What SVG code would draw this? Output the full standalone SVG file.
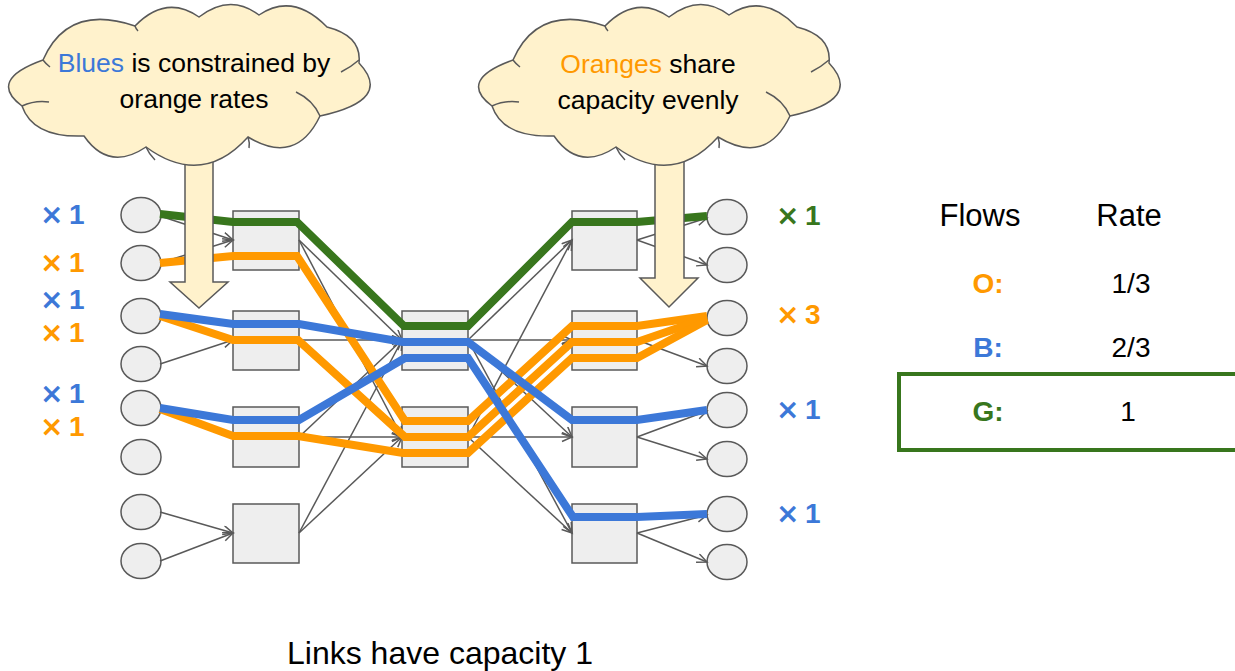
<svg xmlns="http://www.w3.org/2000/svg" width="1235" height="671" viewBox="0 0 1235 671">
<style>
text{font-family:"Liberation Sans",Arial,sans-serif}
.host{fill:#eeeeee;stroke:#595959;stroke-width:1.5}
.sw{fill:#eeeeee;stroke:#595959;stroke-width:1.5}
.thin{fill:none;stroke:#595959;stroke-width:1.5;marker-end:url(#arr)}
.flow{fill:none;stroke-width:8;stroke-linejoin:miter}
.g{stroke:#38761d}.o{stroke:#ff9900}.b{stroke:#3c78d8}
.cloud{fill:#fff2cc;stroke:#595959;stroke-width:1.5}
.crease{fill:none;stroke:#595959;stroke-width:1.5}
.bigarr{fill:#fff2cc;stroke:#595959;stroke-width:1.5}
.lbl{font-size:28px;font-weight:bold}
.x{font-family:"DejaVu Sans",sans-serif}
.ct{font-size:26.5px;fill:#000;text-anchor:middle}
.tt{font-size:31px;fill:#000;text-anchor:middle}
.tv{font-size:28px;text-anchor:middle}
</style>
<defs>
<marker id="arr" markerUnits="userSpaceOnUse" markerWidth="14" markerHeight="12" refX="11" refY="5" orient="auto">
<path d="M1,0.5 L11,5 L1,9.5" fill="none" stroke="#595959" stroke-width="1.5"/>
</marker>
<g id="cloudshape">
<path class="cloud" d="M43,60 Q68,3 135,26 Q166,-6 199,17 Q230,-7 259,15 Q293,-8 327,27 Q362,36 359,63 Q394,100 320,116 Q296,166 248,137 Q202,188 146,147 Q109,172 84,136 Q33,138 22,106 Q-13,80 43,60 Z"/>
<path class="crease" d="M43,60 Q46,64 50,67"/>
<path class="crease" d="M22,106 Q35,100 49,102"/>
<path class="crease" d="M359,60 Q351,67 341,72"/>
<path class="crease" d="M320,116 Q313,100 296,92"/>
<path class="crease" d="M248,137 Q250,143 249,148"/>
<path class="crease" d="M146,147 Q149,154 155,160"/>
<path class="crease" d="M135,26 Q136,29 138,31"/>
</g>
</defs>

<g id="left-hosts">
<ellipse id="lh1" class="host" cx="141" cy="215" rx="20" ry="17.5"/>
<ellipse id="lh2" class="host" cx="141" cy="263" rx="20" ry="17.5"/>
<ellipse id="lh3" class="host" cx="141" cy="316" rx="20" ry="17.5"/>
<ellipse id="lh4" class="host" cx="141" cy="364" rx="20" ry="17.5"/>
<ellipse id="lh5" class="host" cx="141" cy="408" rx="20" ry="17.5"/>
<ellipse id="lh6" class="host" cx="141" cy="457" rx="20" ry="17.5"/>
<ellipse id="lh7" class="host" cx="141" cy="512" rx="20" ry="17.5"/>
<ellipse id="lh8" class="host" cx="141" cy="561" rx="20" ry="17.5"/>
</g>
<g id="right-hosts">
<ellipse id="rh1" class="host" cx="727" cy="217" rx="20" ry="17.5"/>
<ellipse id="rh2" class="host" cx="727" cy="265" rx="20" ry="17.5"/>
<ellipse id="rh3" class="host" cx="727" cy="318" rx="20" ry="17.5"/>
<ellipse id="rh4" class="host" cx="727" cy="366" rx="20" ry="17.5"/>
<ellipse id="rh5" class="host" cx="727" cy="410" rx="20" ry="17.5"/>
<ellipse id="rh6" class="host" cx="727" cy="459" rx="20" ry="17.5"/>
<ellipse id="rh7" class="host" cx="727" cy="514" rx="20" ry="17.5"/>
<ellipse id="rh8" class="host" cx="727" cy="562" rx="20" ry="17.5"/>
</g>
<g id="left-switches">
<rect id="ls1" class="sw" x="233" y="211" width="66" height="59"/>
<rect id="ls2" class="sw" x="233" y="311" width="66" height="59"/>
<rect id="ls3" class="sw" x="233" y="407" width="66" height="60"/>
<rect id="ls4" class="sw" x="233" y="504" width="66" height="59"/>
</g>
<g id="mid-switches">
<rect id="ms1" class="sw" x="402" y="311" width="66" height="59"/>
<rect id="ms2" class="sw" x="402" y="407" width="66" height="60"/>
</g>
<g id="right-switches">
<rect id="rs1" class="sw" x="572" y="211" width="65" height="59"/>
<rect id="rs2" class="sw" x="572" y="311" width="65" height="59"/>
<rect id="rs3" class="sw" x="572" y="407" width="65" height="60"/>
<rect id="rs4" class="sw" x="572" y="504" width="65" height="59"/>
</g>

<g id="connectors">
<line class="thin" x1="160" y1="216" x2="233" y2="240"/>
<line class="thin" x1="160" y1="263" x2="233" y2="240"/>
<line class="thin" x1="160" y1="364" x2="233" y2="340"/>
<line class="thin" x1="160" y1="512" x2="233" y2="533"/>
<line class="thin" x1="160" y1="561" x2="233" y2="533"/>
<line class="thin" x1="299" y1="240" x2="402" y2="340"/>
<line class="thin" x1="299" y1="240" x2="402" y2="437"/>
<line class="thin" x1="299" y1="340" x2="402" y2="340"/>
<line class="thin" x1="299" y1="340" x2="402" y2="437"/>
<line class="thin" x1="299" y1="437" x2="402" y2="340"/>
<line class="thin" x1="299" y1="437" x2="402" y2="437"/>
<line class="thin" x1="299" y1="533" x2="402" y2="340"/>
<line class="thin" x1="299" y1="533" x2="402" y2="437"/>
<line class="thin" x1="468" y1="340" x2="572" y2="240"/>
<line class="thin" x1="468" y1="340" x2="572" y2="340"/>
<line class="thin" x1="468" y1="340" x2="572" y2="437"/>
<line class="thin" x1="468" y1="340" x2="572" y2="533"/>
<line class="thin" x1="468" y1="437" x2="572" y2="240"/>
<line class="thin" x1="468" y1="437" x2="572" y2="340"/>
<line class="thin" x1="468" y1="437" x2="572" y2="437"/>
<line class="thin" x1="468" y1="437" x2="572" y2="533"/>
<line class="thin" x1="637" y1="240" x2="707" y2="218"/>
<line class="thin" x1="637" y1="240" x2="707" y2="265"/>
<line class="thin" x1="637" y1="340" x2="707" y2="366"/>
<line class="thin" x1="637" y1="437" x2="707" y2="411"/>
<line class="thin" x1="637" y1="437" x2="707" y2="459"/>
<line class="thin" x1="637" y1="533" x2="707" y2="515"/>
<line class="thin" x1="637" y1="533" x2="707" y2="562"/>
</g>

<g id="flows">
<polyline class="flow o" points="160,263 233,256 297,256 405,421 468,421 572,326 637,326 707,316"/>
<polyline class="flow o" points="160,316 233,340 298,340 405,437 468,437 572,342 637,342 707,318"/>
<polyline class="flow o" points="160,409 233,436 298,436 403,453 468,453 572,358 637,358 707,320"/>
<polyline class="flow b" points="160,314 233,324 299,324 403,342 468,342 572,420 637,420 707,410"/>
<polyline class="flow b" points="160,408 233,420 299,420 405,358 468,358 573,517 637,517 707,514"/>
<polyline class="flow g" points="160,214 233,222 297,222 404,326 468,326 572,222 637,222 707,216"/>
</g>

<g id="left-cloud">
<polygon class="bigarr" points="185,150 213,150 213,282 228,282 199,308 170,282 185,282"/>
<use href="#cloudshape"/>
<text class="ct" x="194" y="72"><tspan fill="#3c78d8">Blues</tspan> is constrained by</text>
<text class="ct" x="194" y="108">orange rates</text>
</g>
<g id="right-cloud">
<polygon class="bigarr" points="655,150 684,150 684,278 698,278 669,307 640,278 655,278"/>
<use href="#cloudshape" transform="translate(470,0)"/>
<text class="ct" x="648" y="73"><tspan fill="#ff9900">Oranges</tspan> share</text>
<text class="ct" x="648" y="109">capacity evenly</text>
</g>

<g id="left-labels" class="lbl">
<text y="224" fill="#3c78d8"><tspan class="x" x="40">×</tspan><tspan x="69">1</tspan></text>
<text y="272" fill="#ff9900"><tspan class="x" x="40">×</tspan><tspan x="69">1</tspan></text>
<text y="309" fill="#3c78d8"><tspan class="x" x="40">×</tspan><tspan x="69">1</tspan></text>
<text y="342" fill="#ff9900"><tspan class="x" x="40">×</tspan><tspan x="69">1</tspan></text>
<text y="403" fill="#3c78d8"><tspan class="x" x="40">×</tspan><tspan x="69">1</tspan></text>
<text y="436" fill="#ff9900"><tspan class="x" x="40">×</tspan><tspan x="69">1</tspan></text>
</g>
<g id="right-labels" class="lbl">
<text y="225" fill="#38761d"><tspan class="x" x="776">×</tspan><tspan x="805">1</tspan></text>
<text y="324" fill="#ff9900"><tspan class="x" x="776">×</tspan><tspan x="805">3</tspan></text>
<text y="419" fill="#3c78d8"><tspan class="x" x="776">×</tspan><tspan x="805">1</tspan></text>
<text y="523" fill="#3c78d8"><tspan class="x" x="776">×</tspan><tspan x="805">1</tspan></text>
</g>

<g id="table">
<text class="tt" x="980" y="226">Flows</text>
<text class="tt" x="1129" y="226">Rate</text>
<text class="tv" x="988" y="293" fill="#ff9900" font-weight="bold">O:</text>
<text class="tv" x="1131" y="293" fill="#000">1/3</text>
<text class="tv" x="988" y="357" fill="#3c78d8" font-weight="bold">B:</text>
<text class="tv" x="1131" y="357" fill="#000">2/3</text>
<rect id="highlight" x="899" y="374" width="400" height="76" fill="none" stroke="#38761d" stroke-width="4"/>
<text class="tv" x="988" y="421" fill="#38761d" font-weight="bold">G:</text>
<text class="tv" x="1128" y="421" fill="#000">1</text>
</g>

<text id="caption" x="440" y="664" font-size="32" text-anchor="middle" fill="#000">Links have capacity 1</text>
</svg>
